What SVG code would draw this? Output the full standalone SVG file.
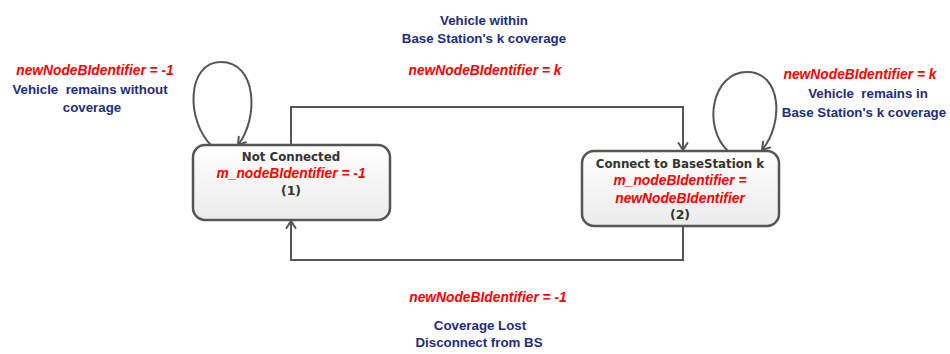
<svg xmlns="http://www.w3.org/2000/svg" width="950" height="354" viewBox="0 0 950 354">
  <defs>
    <linearGradient id="nodeFill" x1="0" y1="0" x2="0" y2="1">
      <stop offset="0" stop-color="#ffffff"/>
      <stop offset="1" stop-color="#ebebeb"/>
    </linearGradient>
    <marker id="arr" markerWidth="12" markerHeight="12" refX="9" refY="6" orient="auto" markerUnits="userSpaceOnUse">
      <path d="M2,1.5 L9,6 L2,10.5" fill="none" stroke="#555555" stroke-width="2" stroke-linecap="round" stroke-linejoin="round"/>
    </marker>
    <style>
      .node { fill: url(#nodeFill); stroke: #555555; stroke-width: 2.5; }
      .edge { fill: none; stroke: #555555; stroke-width: 2; marker-end: url(#arr); }
      .title { font-family: "DejaVu Sans", Verdana, sans-serif; font-weight: bold; font-size: 11.8px; fill: #333333; text-anchor: middle; }
      .num { font-family: "DejaVu Sans", Verdana, sans-serif; font-weight: bold; font-size: 12.5px; fill: #333333; text-anchor: middle; }
      .red { font-family: "Liberation Sans", Arial, sans-serif; font-weight: bold; font-style: italic; font-size: 13.8px; fill: #ff0000; text-anchor: middle; }
      .blue { font-family: "Liberation Sans", Arial, sans-serif; font-weight: bold; font-size: 13.3px; fill: #1f2d7a; text-anchor: middle; }
    </style>
  </defs>

  <g id="connectors">
    <path class="edge" d="M291,145 V107 H683 V150"/>
    <path class="edge" d="M683,226 V260 H291 V221"/>
    <path class="edge" d="M212,146 C186,122 186,62 221,62 C257,62 259,118 238,145"/>
    <path class="edge" d="M728,151 C702,127 712,72 747,72 C782,72 784,124 762,150"/>
  </g>

  <g id="node1">
    <rect class="node" x="193" y="145" width="197" height="75" rx="12" ry="12"/>
    <text class="title" x="291" y="161">Not Connected</text>
    <text class="red" x="291" y="178">m_nodeBIdentifier = -1</text>
    <text class="num" x="291" y="195">(1)</text>
  </g>

  <g id="node2">
    <rect class="node" x="582" y="151" width="197" height="75" rx="12" ry="12"/>
    <text class="title" x="680" y="168">Connect to BaseStation k</text>
    <text class="red" x="680" y="185">m_nodeBIdentifier =</text>
    <text class="red" x="680" y="203">newNodeBIdentifier</text>
    <text class="num" x="680" y="219">(2)</text>
  </g>

  <g id="label-top">
    <text class="blue" x="484" y="25">Vehicle within</text>
    <text class="blue" x="484" y="43">Base Station's k coverage</text>
    <text class="red" x="485" y="75">newNodeBIdentifier = k</text>
  </g>

  <g id="label-bottom">
    <text class="red" x="488" y="302">newNodeBIdentifier = -1</text>
    <text class="blue" x="480" y="330">Coverage Lost</text>
    <text class="blue" x="479" y="347">Disconnect from BS</text>
  </g>

  <g id="label-left">
    <text class="red" x="95" y="75">newNodeBIdentifier = -1</text>
    <text class="blue" x="90" y="94" xml:space="preserve">Vehicle  remains without</text>
    <text class="blue" x="92" y="112">coverage</text>
  </g>

  <g id="label-right">
    <text class="red" x="860" y="79">newNodeBIdentifier = k</text>
    <text class="blue" x="868" y="98" xml:space="preserve">Vehicle  remains in</text>
    <text class="blue" x="864" y="117">Base Station's k coverage</text>
  </g>
</svg>
